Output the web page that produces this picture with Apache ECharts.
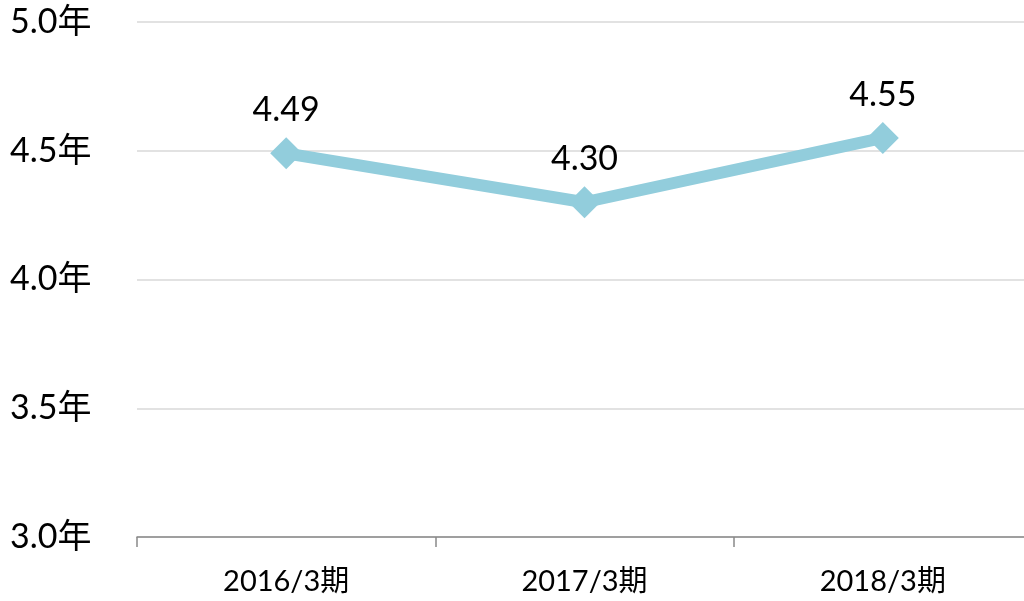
<!DOCTYPE html>
<html>
<head>
<meta charset="utf-8">
<script src="https://cdn.jsdelivr.net/npm/echarts@6/dist/echarts.min.js"></script>
<style>
    html, body { margin: 0; padding: 0; background: #fff; overflow: hidden; }
    #main { width: 1032px; height: 601px; }
</style>
</head>
<body>
<div id="main"></div>
<script>
    var categories = ['2016/3期', '2017/3期', '2018/3期'];
    var values = [4.49, 4.30, 4.55];
    var yMin = 3.0, yMax = 5.0, yStep = 0.5;

    var font = "Lato, 'Noto Sans CJK JP', sans-serif";

    // 图表比窗口略宽，右侧网格线一直延伸到边缘
    var chart = echarts.init(document.getElementById('main'));
    var option = {
        animation: false,
        grid: {
            left: 137,
            top: 22,
            right: 0,
            bottom: 64,
            containLabel: false
        },
        xAxis: {
            type: 'category',
            data: categories,
            axisLine: { lineStyle: { color: '#898989', width: 1.5 } },
            axisTick: { show: true, length: 10, lineStyle: { color: '#898989', width: 1.5 } },
            axisLabel: { color: '#000', fontSize: 29, fontFamily: font, margin: 30 }
        },
        yAxis: {
            type: 'value',
            min: yMin,
            max: yMax,
            interval: yStep,
            axisLine: { show: false },
            axisTick: { show: false },
            splitLine: { lineStyle: { color: '#d9d9d9', width: 1.5 } },
            axisLabel: {
                color: '#000',
                fontSize: 34,
                fontFamily: font,
                align: 'left',
                margin: 127,
                formatter: function (v) { return v.toFixed(1) + '年'; }
            }
        },
        series: [{
            type: 'line',
            data: values,
            symbol: 'diamond',
            symbolSize: [32, 32],
            itemStyle: { color: '#92cddc' },
            lineStyle: { color: '#92cddc', width: 12 },
            label: {
                show: true,
                position: 'top',
                distance: 10,
                color: '#000',
                fontSize: 34,
                lineHeight: 34,
                fontFamily: font,
                formatter: function (p) { return p.value.toFixed(2); }
            }
        }]
    };
    chart.setOption(option);
</script>
</body>
</html>
